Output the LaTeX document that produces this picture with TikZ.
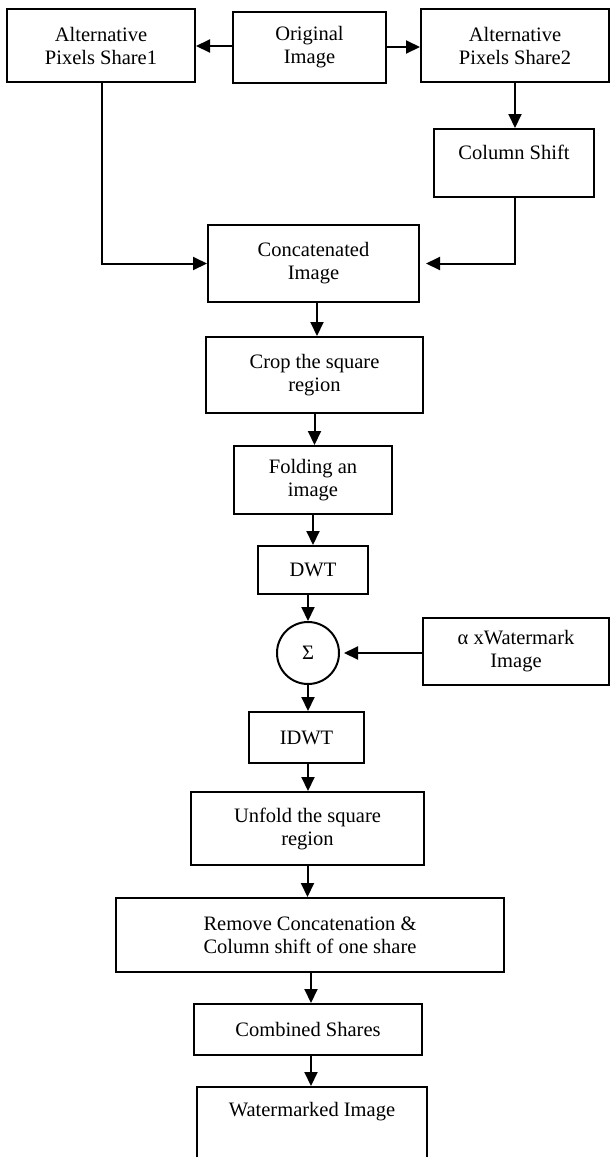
\documentclass[tikz,border=0pt]{standalone}
\usepackage{fontspec}
\setmainfont{Liberation Serif}
\usetikzlibrary{arrows.meta}
\newcommand\boxfont{\fontsize{20.5}{23}\selectfont}
\begin{document}
\begin{tikzpicture}[x=1pt,y=-1pt,
  box/.style={draw, line width=2pt, inner sep=0pt, align=center, font=\boxfont},
  arr/.style={line width=2pt, -{Triangle[length=14pt,width=13pt]}}]
\useasboundingbox (0,0) rectangle (611,1157);
\clip (0,0) rectangle (611,1157);
% boxes
\node[box, minimum width=188, minimum height=73] (s1) at (101,45.5) {Alternative\\Pixels Share1};
\node[box, minimum width=153, minimum height=71] (orig) at (309.5,47.5) {Original\\Image};
\node[box, minimum width=188, minimum height=73] (s2) at (515,45.5) {Alternative\\Pixels Share2};
\node[box, minimum width=160, anchor=north, inner ysep=14pt, text height=16pt, text depth=24pt] (cs) at (514,128) {Column Shift};
\node[box, minimum width=211, minimum height=77] (cat) at (313.5,263.5) {Concatenated\\Image};
\node[box, minimum width=217, minimum height=76] (crop) at (314.5,375) {Crop the square\\region};
\node[box, minimum width=158, minimum height=68] (fold) at (313,480) {Folding an\\image};
\node[box, minimum width=110, minimum height=48] (dwt) at (313,570) {DWT};
\node[box, circle, minimum size=62] (sum) at (308,653) {Σ};
\node[box, minimum width=186, minimum height=67] (alpha) at (516,651.5) {α xWatermark\\Image};
\node[box, minimum width=115, minimum height=51] (idwt) at (306.5,737.5) {IDWT};
\node[box, minimum width=233, minimum height=73] (unfold) at (307.5,828.5) {Unfold the square\\region};
\node[box, minimum width=388, minimum height=74] (remove) at (310,935) {Remove Concatenation \&\\Column shift of one share};
\node[box, minimum width=228, minimum height=51] (comb) at (308,1029.5) {Combined Shares};
\node[box, minimum width=230, anchor=north, inner ysep=14pt, text height=15pt, text depth=80pt] (wm) at (312,1086) {Watermarked Image};
% connectors
\draw[arr] (orig.west |- 0,46) -- (s1.east |- 0,46);
\draw[arr] (orig.east |- 0,47) -- (s2.west |- 0,47);
\draw[arr] (s2.south) -- (s2.south |- cs.north);
\draw[arr] ([xshift=1pt]s1.south) |- (cat.west);
\draw[arr] ([xshift=1pt]cs.south) |- ([xshift=6pt]cat.east);
\draw[arr] ([xshift=3.5pt]cat.south) -- ([xshift=3.5pt]cat.south |- crop.north);
\draw[arr] (crop.south) -- (crop.south |- fold.north);
\draw[arr] (fold.south) -- (fold.south |- dwt.north);
\draw[arr] (sum.north |- dwt.south) -- (sum.north);
\draw[arr] (alpha.west |- sum.east) -- ([xshift=4pt]sum.east);
\draw[arr] (sum.south) -- (sum.south |- idwt.north);
\draw[arr] ([xshift=1.5pt]idwt.south) -- ([xshift=1.5pt]idwt.south |- unfold.north);
\draw[arr] (unfold.south) -- (unfold.south |- remove.north);
\draw[arr] ([xshift=1pt]remove.south) -- ([xshift=1pt]remove.south |- comb.north);
\draw[arr] ([xshift=3pt]comb.south) -- ([xshift=3pt]comb.south |- wm.north);
\end{tikzpicture}
\end{document}
